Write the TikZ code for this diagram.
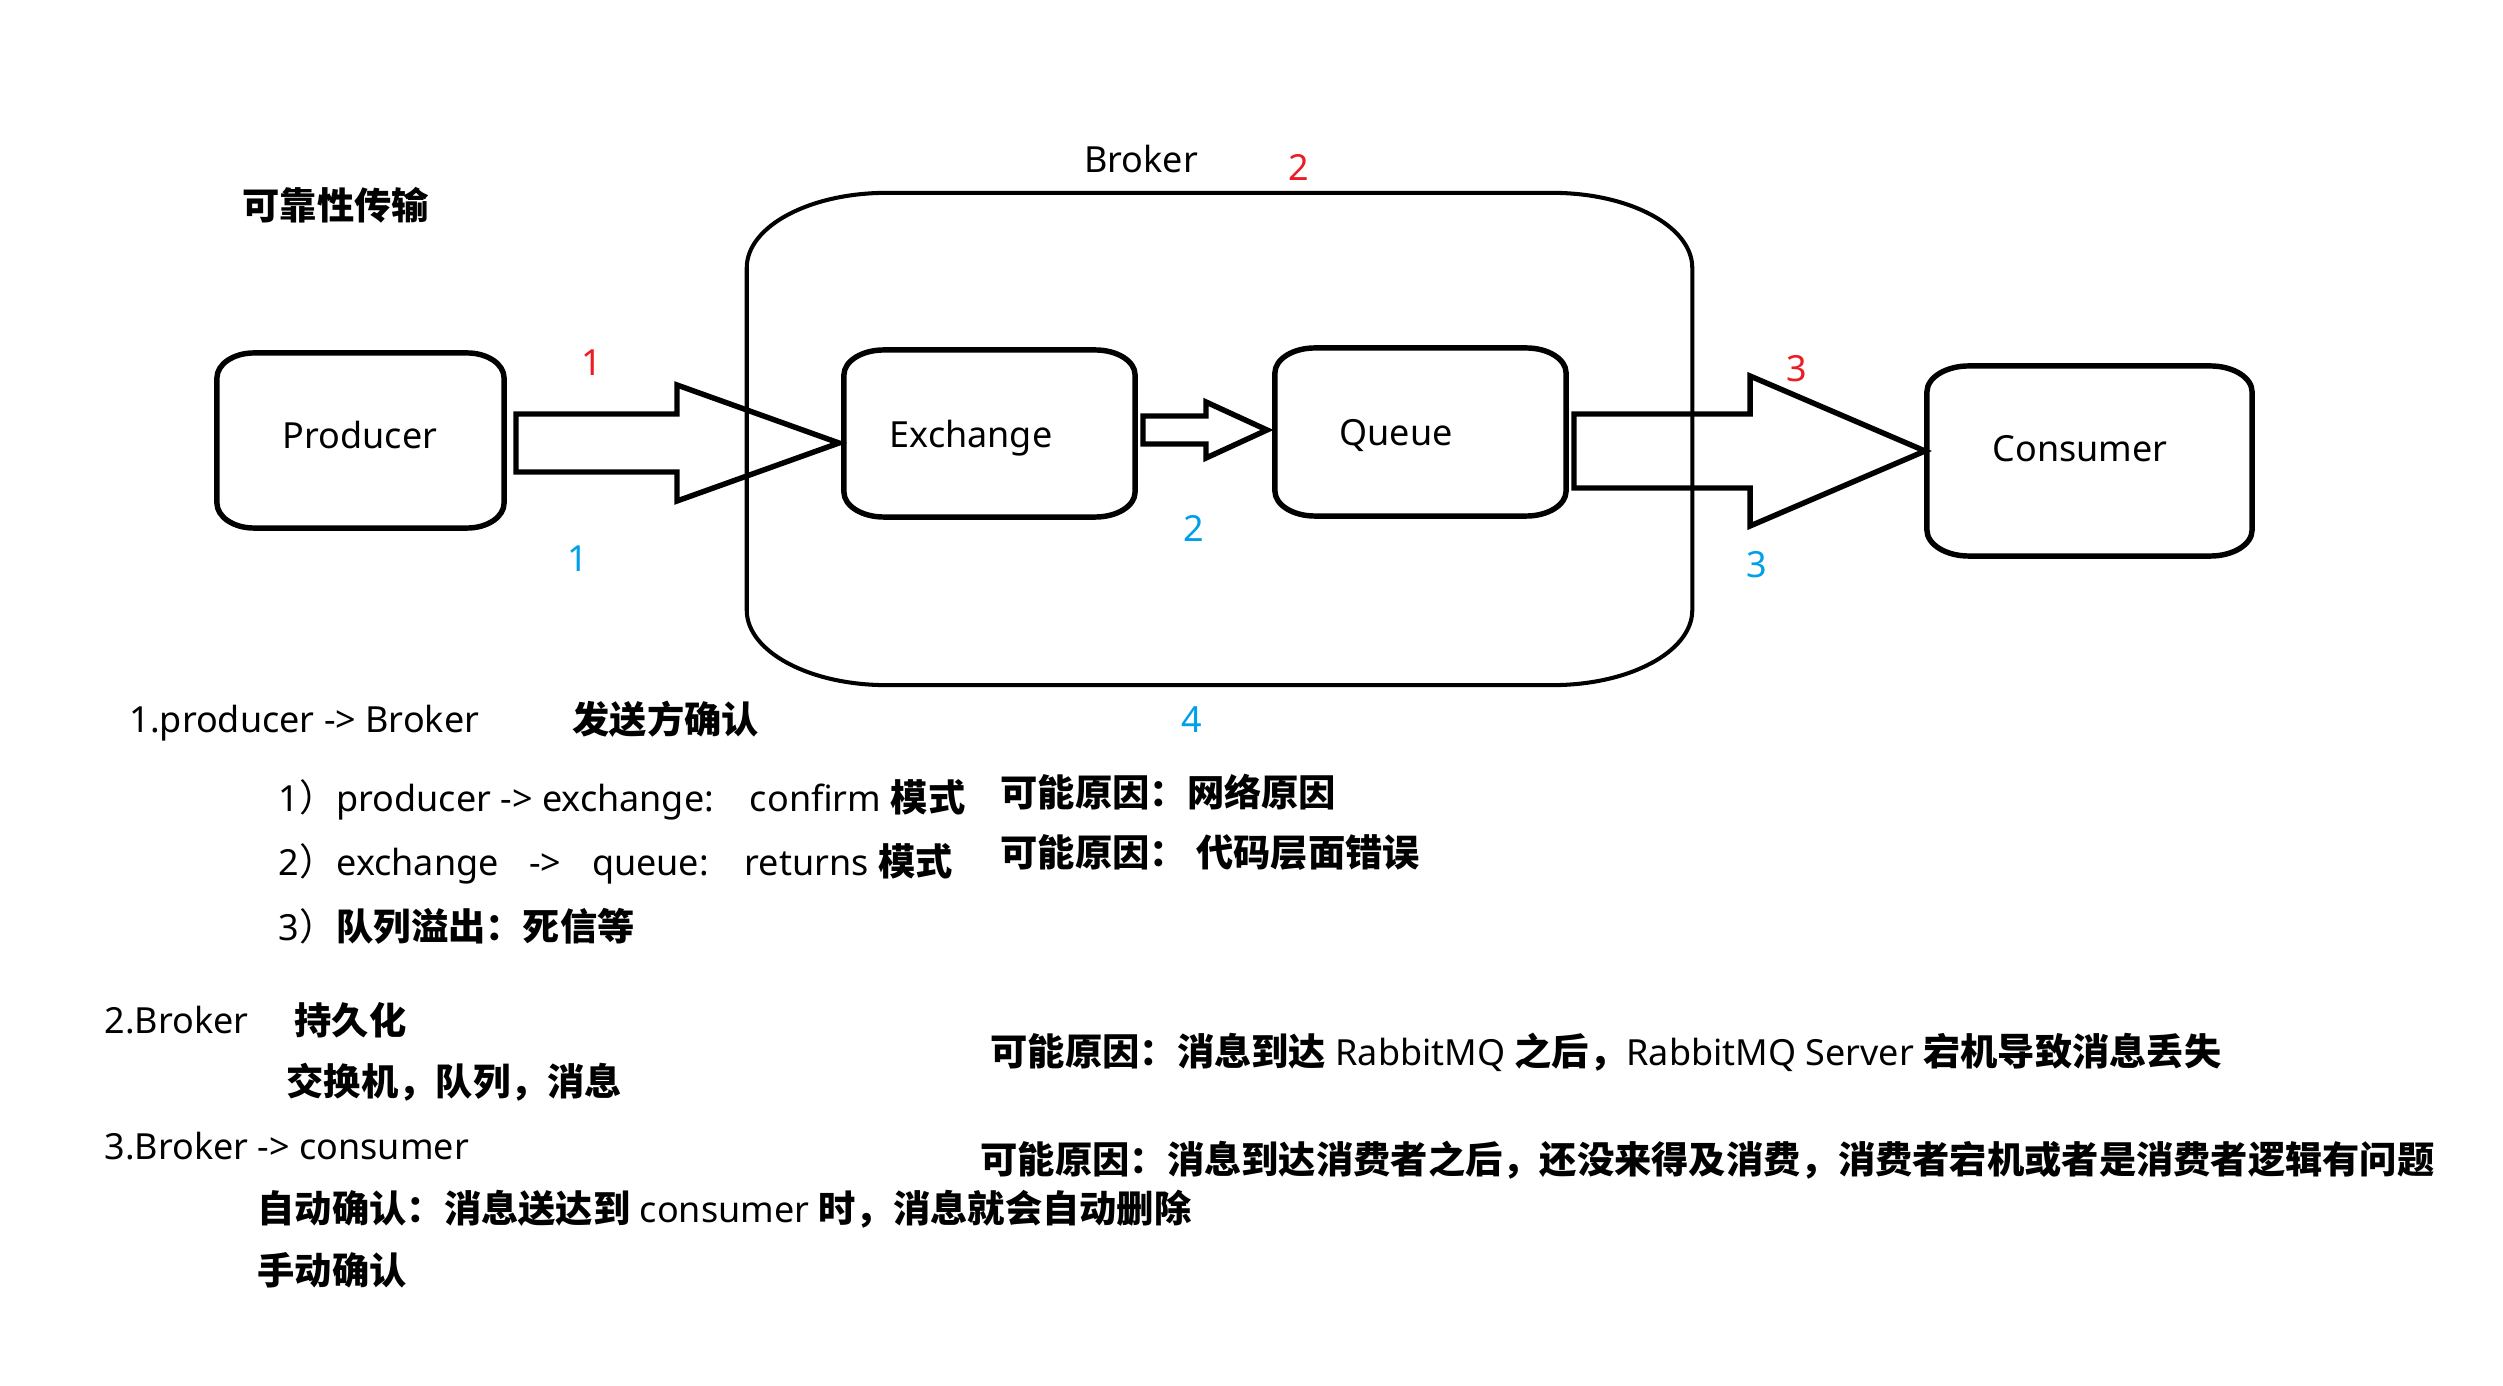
\documentclass[tikz,border=0pt]{standalone}
\usepackage{fontspec}
\setmainfont{Noto Sans}[Scale=0.965]
\newfontfamily\cjk{Noto Sans CJK SC}
\usetikzlibrary{calc}
\newcommand\B[1]{{\cjk\bfseries #1}}
\newcommand\C[1]{{\cjk #1}}
\definecolor{numred}{RGB}{235,28,36}
\definecolor{numblue}{RGB}{0,160,233}
% rounded box with elliptical corners: [style] node, rx, ry
\newcommand\ebox[4][boxline]{%
 \draw[#1] ($(#2.north west)+(#3,0)$) -- ($(#2.north east)+(-#3,0)$)
  .. controls ($(#2.north east)+(-0.4477*#3,0)$) and ($(#2.north east)+(0,0.4477*#4)$) .. ($(#2.north east)+(0,#4)$)
  -- ($(#2.south east)+(0,-#4)$)
  .. controls ($(#2.south east)+(0,-0.4477*#4)$) and ($(#2.south east)+(-0.4477*#3,0)$) .. ($(#2.south east)+(-#3,0)$)
  -- ($(#2.south west)+(#3,0)$)
  .. controls ($(#2.south west)+(0.4477*#3,0)$) and ($(#2.south west)+(0,-0.4477*#4)$) .. ($(#2.south west)+(0,-#4)$)
  -- ($(#2.north west)+(0,#4)$)
  .. controls ($(#2.north west)+(0,0.4477*#4)$) and ($(#2.north west)+(0.4477*#3,0)$) .. ($(#2.north west)+(#3,0)$) -- cycle;}
% block arrow: x0, xhead, xtip, ycenter, half body, half head
\newcommand\blockarrow[6]{%
 \draw[arrowline] (#1,#4-#5) -- (#2,#4-#5) -- (#2,#4-#6) -- (#3,#4) -- (#2,#4+#6) -- (#2,#4+#5) -- (#1,#4+#5) -- cycle;}
\begin{document}
\begin{tikzpicture}[x=0.01cm,y=-0.01cm,
  boxline/.style={line width=1.55pt, line join=round},
  brokerline/.style={line width=1.15pt},
  arrowline/.style={line width=1.55pt, line join=miter},
  frame/.style={draw=none, inner sep=0, outer sep=0},
  lab/.style={inner sep=0, anchor=base, font=\fontsize{10.6}{12}\selectfont},
  numr/.style={lab, text=numred},
  numb/.style={lab, text=numblue},
  txt/.style={inner sep=0, anchor=west, text height=10.6pt, text depth=2.65pt, font=\fontsize{10.6}{12}\selectfont}
]
\useasboundingbox (0,0) rectangle (2503,1386);
\fill[white] (0,0) rectangle (2503,1386);

% frames
\node[frame, minimum width=9.45cm, minimum height=4.92cm] (broker) at (1219.5,439) {};
\node[frame, minimum width=2.87cm, minimum height=1.75cm] (prod) at (360.5,440.5) {};
\node[frame, minimum width=2.91cm, minimum height=1.67cm] (exch) at (989.5,433.5) {};
\node[frame, minimum width=2.91cm, minimum height=1.68cm] (queue) at (1420.5,432) {};
\node[frame, minimum width=3.25cm, minimum height=1.90cm] (cons) at (2089.5,461) {};
\ebox[brokerline]{broker}{140}{75}
\ebox{prod}{37}{25}
\ebox{exch}{40}{25}
\ebox{queue}{40}{25}
\ebox{cons}{42}{26}

% box labels
\node[lab] (prodt) at (360,449) {Producer};
\node[lab] (excht) at (971,448) {Exchange};
\node[lab] (queuet) at (1396,446) {Queue};
\node[lab] (const) at (2080,462) {Consumer};
\node[lab] (brokert) at (1141,173) {Broker};

% block arrows
\blockarrow{516}{677}{839}{443}{29}{58}
\blockarrow{1143}{1206}{1267}{430}{14}{28}
\blockarrow{1574}{1750}{1925}{451}{37}{75}

% numbers
\node[numr] (r1) at (592,376) {1};
\node[numb] (b1) at (578,572) {1};
\node[numr] (r2) at (1299,181) {2};
\node[numb] (b2) at (1194,542) {2};
\node[numr] (r3) at (1797,382) {3};
\node[numb] (b3) at (1757,578) {3};
\node[numb] (b4) at (1192,733) {4};

% texts
\node[txt] (title) at (242,206) {\B{可靠性传输}};
\node[txt] (l1) at (129,719) {1.producer -> Broker};
\node[txt] (l1b) at (572,720) {\B{发送方确认}};
\node[txt] (l11) at (278,798) {1\C{）}producer -> exchange:\hspace{1em}confirm \B{模式}};
\node[txt] (r11) at (1000,793) {\B{可能原因：网络原因}};
\node[txt] (l12) at (278,862) {2\C{）}exchange\hspace{0.85em}->\hspace{0.85em}queue:\hspace{1em}returns \B{模式}};
\node[txt] (r12) at (1000,853) {\B{可能原因：\hspace{0.25em}代码层面错误}};
\node[txt] (l13) at (278,927) {3\C{）}\B{队列溢出：死信等}};
\node[txt] (l2) at (104,1020) {2.Broker};
\node[txt] (l2b) at (294,1021) {\B{持久化}};
\node[txt] (l21) at (286,1082) {\B{交换机，队列，消息}};
\node[txt] (r2t) at (990,1052) {\B{可能原因：消息到达} RabbitMQ \B{之后，}RabbitMQ Server \B{宕机导致消息丢失}};
\node[txt] (l3) at (104,1146) {3.Broker -> consumer};
\node[txt] (r3t) at (980,1160) {\B{可能原因：消息到达消费者之后，还没来得及消费，消费者宕机或者是消费者逻辑有问题}};
\node[txt] (l31) at (257,1209) {\B{自动确认：消息送达到} consumer \B{时，消息就会自动删除}};
\node[txt] (l32) at (257,1271) {\B{手动确认}};
\end{tikzpicture}
\end{document}
